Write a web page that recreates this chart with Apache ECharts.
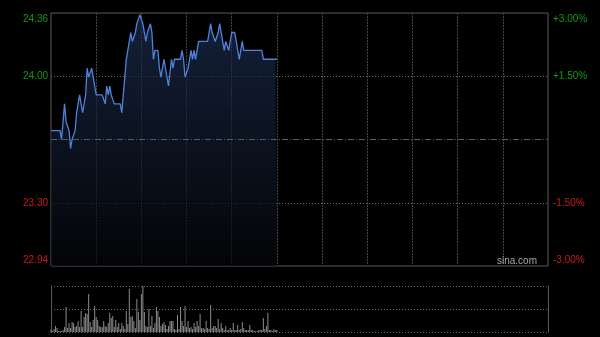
<!DOCTYPE html>
<html>
<head>
<meta charset="utf-8">
<script src="https://cdn.jsdelivr.net/npm/echarts@6/dist/echarts.min.js"></script>
<style>
html,body{margin:0;padding:0;background:#000;}
#c{width:600px;height:337px;}
</style>
</head>
<body>
<div id="c"></div>
<script>
// HK intraday: 09:30-12:00, 13:00-16:00 = 330 minutes
const prevClose = 23.65;
const totalMinutes = 330;
const gridStepMinutes = 30;
const pctTicks = [-3, -1.5, 0, 1.5, 3];

// last price per minute (morning session, 151 points)
const prices = [
  23.70,23.70,23.70,23.70,23.70,23.70,23.70,23.65,23.75,23.85,
  23.75,23.75,23.70,23.60,23.65,23.65,23.70,23.80,23.85,23.90,
  23.85,23.80,23.80,23.90,24.05,24.00,24.00,24.05,24.00,23.95,
  23.90,23.90,23.90,23.90,23.90,23.90,23.85,23.95,23.90,23.95,
  23.90,23.90,23.85,23.85,23.85,23.85,23.85,23.80,23.90,24.00,
  24.10,24.10,24.20,24.25,24.20,24.20,24.25,24.30,24.30,24.35,
  24.35,24.30,24.25,24.20,24.25,24.25,24.30,24.25,24.10,24.15,
  24.15,24.15,24.05,24.00,24.05,24.10,24.05,24.00,23.95,23.95,
  24.10,24.05,24.10,24.10,24.10,24.10,24.10,24.15,24.10,24.00,
  24.00,24.05,24.10,24.15,24.10,24.15,24.10,24.15,24.20,24.20,
  24.20,24.20,24.20,24.20,24.20,24.25,24.30,24.25,24.25,24.20,
  24.20,24.25,24.30,24.25,24.20,24.15,24.20,24.20,24.15,24.20,
  24.25,24.25,24.25,24.20,24.15,24.10,24.15,24.20,24.15,24.15,
  24.15,24.15,24.15,24.15,24.15,24.15,24.15,24.15,24.15,24.15,
  24.15,24.10,24.10,24.10,24.10,24.10,24.10,24.10,24.10,24.10,
  24.10
];

// volume per minute (arbitrary units)
const volumes = [
  20,10,30,60,40,10,10,10,20,50,
  250,40,90,40,100,90,50,60,110,50,
  210,50,150,190,180,380,100,50,120,260,
  150,120,60,50,50,110,60,50,90,190,
  140,160,50,120,50,90,30,90,60,30,
  210,80,430,150,160,110,40,330,200,120,
  380,460,200,60,50,230,60,160,40,90,
  250,210,150,60,80,100,70,30,60,110,
  110,110,30,20,170,30,250,110,60,260,
  50,110,40,50,30,90,50,110,60,180,
  40,40,30,110,40,30,270,40,60,60,
  40,130,30,90,40,20,60,20,20,40,
  20,90,20,20,70,20,30,100,40,20,
  20,20,70,20,20,10,10,10,20,20,
  20,140,30,60,190,20,20,10,30,20,
  20
];
const volMax = 460;

const pctData = prices.map((p, i) => [i, (p / prevClose - 1) * 100]);
const volData = volumes.map((v, i) => [i, v]);

const green = '#109a10';
const red = '#cc1a1a';
const font = 'Liberation Sans, Arial, sans-serif';

function priceLabel(v) {
  if (Math.abs(v) < 1e-9) return '';
  const s = (prevClose * (1 + v / 100)).toFixed(2);
  if (v >= 2.99) return '{gt|' + s + '}';
  if (v > 0) return '{g|' + s + '}';
  if (v <= -2.99) return '{rb|' + s + '}';
  return '{r|' + s + '}';
}
function pctLabel(v) {
  if (Math.abs(v) < 1e-9) return '';
  const s = (v > 0 ? '+' : '') + v.toFixed(2) + '%';
  if (v >= 2.99) return '{gt|' + s + '}';
  if (v > 0) return '{g|' + s + '}';
  if (v <= -2.99) return '{rb|' + s + '}';
  return '{r|' + s + '}';
}
const rich = {
  g: {color: green, fontSize: 10, fontFamily: font},
  gt: {color: green, fontSize: 10, fontFamily: font, padding: [12, 0, 0, 0]},
  r: {color: red, fontSize: 10, fontFamily: font},
  rb: {color: red, fontSize: 10, fontFamily: font, padding: [0, 0, 12, 0]}
};

const chart = echarts.init(document.getElementById('c'), null, {renderer: 'canvas'});
chart.setOption({
  backgroundColor: '#000',
  animation: false,
  grid: [
    {left: 51, right: 52, top: 13, height: 253, show: true, borderColor: '#5a5a5a', borderWidth: 1, backgroundColor: 'transparent'},
    {left: 51, right: 52, top: 286, height: 46}
  ],
  xAxis: [
    {type: 'value', gridIndex: 0, min: 0, max: totalMinutes, interval: gridStepMinutes,
     axisLine: {show: false}, axisTick: {show: false}, axisLabel: {show: false},
     splitLine: {show: true, showMinLine: false, showMaxLine: false, lineStyle: {color: '#444', type: [2, 1], width: 1}}},
    {type: 'value', gridIndex: 1, min: 0, max: totalMinutes, interval: gridStepMinutes,
     axisLine: {show: false}, axisTick: {show: false}, axisLabel: {show: false}, splitLine: {show: false}}
  ],
  yAxis: [
    {type: 'value', gridIndex: 0, min: pctTicks[0], max: pctTicks[4], interval: 1.5, position: 'left',
     axisLine: {show: false}, axisTick: {show: false},
     axisLabel: {show: true, margin: 3, formatter: priceLabel, rich: rich},
     splitLine: {show: true, showMinLine: false, showMaxLine: false,
       lineStyle: {color: ['#6a6a6a', 'rgba(0,0,0,0)', '#6a6a6a'], type: [1, 2], width: 1}}},
    {type: 'value', gridIndex: 0, min: pctTicks[0], max: pctTicks[4], interval: 1.5, position: 'right',
     axisLine: {show: false}, axisTick: {show: false},
     axisLabel: {show: true, margin: 5, formatter: pctLabel, rich: rich},
     splitLine: {show: false}},
    {type: 'value', gridIndex: 1, min: 0, max: volMax, interval: volMax / 2, position: 'left',
     axisLine: {show: true, lineStyle: {color: '#5a5a5a', width: 1}}, axisTick: {show: false}, axisLabel: {show: false},
     splitLine: {show: true, lineStyle: {color: '#6a6a6a', type: [1, 2], width: 1}}},
    {type: 'value', gridIndex: 1, min: 0, max: volMax, interval: volMax / 2, position: 'right',
     axisLine: {show: true, lineStyle: {color: '#5a5a5a', width: 1}}, axisTick: {show: false}, axisLabel: {show: false},
     splitLine: {show: false}}
  ],
  graphic: [
    {type: 'text', right: 63, top: 256, z: 10,
     style: {text: 'sina.com', fill: '#a8a8a8', font: '10px ' + font}}
  ],
  series: [
    {type: 'line', xAxisIndex: 0, yAxisIndex: 0, data: pctData, showSymbol: false, symbol: 'none',
     lineStyle: {color: '#4f82d8', width: 1.3},
     areaStyle: {origin: 'start', color: new echarts.graphic.LinearGradient(0, 0, 0, 1, [
       {offset: 0, color: 'rgba(30,48,84,0.95)'},
       {offset: 1, color: 'rgba(4,6,10,1)'}
     ])},
     markLine: {silent: true, symbol: 'none', label: {show: false},
       lineStyle: {color: '#5a5a5a', type: [6, 2, 1, 2], width: 1},
       data: [{yAxis: 0}]},
     z: 3},
    {type: 'bar', xAxisIndex: 1, yAxisIndex: 2, data: volData, barWidth: 1,
     itemStyle: {color: '#8c8c8c'}, z: 3}
  ]
});
</script>
</body>
</html>
